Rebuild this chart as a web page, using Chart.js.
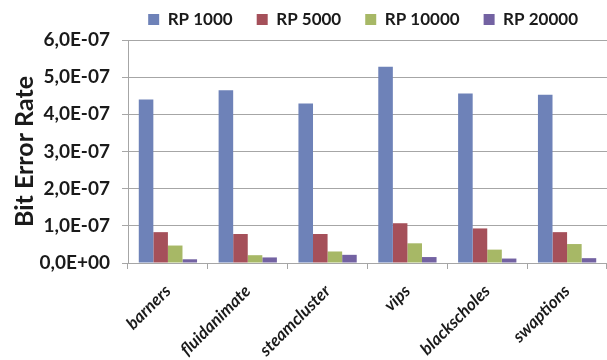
<!DOCTYPE html>
<html>
<head>
<meta charset="utf-8">
<script src="https://cdn.jsdelivr.net/npm/chart.js@4/dist/chart.umd.min.js"></script>
<style>
  html, body { margin: 0; padding: 0; background: #fff; }
  canvas { display: block; }
</style>
</head>
<body>
<canvas id="berChart" width="607" height="360"></canvas>
<script>
/* ── Data ───────────────────────────────────────────────────────────────── */

const BENCHMARKS = ['barners', 'fluidanimate', 'steamcluster', 'vips', 'blackscholes', 'swaptions'];

const SERIES_LABELS = ['RP 1000', 'RP 5000', 'RP 10000', 'RP 20000'];

const RP_1000  = [4.40e-7, 4.65e-7, 4.29e-7, 5.28e-7, 4.56e-7, 4.53e-7];
const RP_5000  = [0.83e-7, 0.78e-7, 0.78e-7, 1.07e-7, 0.93e-7, 0.83e-7];
const RP_10000 = [0.47e-7, 0.21e-7, 0.31e-7, 0.53e-7, 0.36e-7, 0.51e-7];
const RP_20000 = [0.10e-7, 0.15e-7, 0.22e-7, 0.16e-7, 0.12e-7, 0.13e-7];

const Y_TICKS       = [0, 1e-7, 2e-7, 3e-7, 4e-7, 5e-7, 6e-7];
const Y_TICK_LABELS = ['0,0E+00', '1,0E-07', '2,0E-07', '3,0E-07', '4,0E-07', '5,0E-07', '6,0E-07'];

/* ── Style ──────────────────────────────────────────────────────────────── */

const COLORS = {
    series: ['#6e82b8', '#a5505a', '#a7b866', '#7362a2'],
    grid:   '#a6a6a6',
    text:   '#1a1a1a',
};

const FONT = 'Lato, "Open Sans", sans-serif';

const seriesData = [RP_1000, RP_5000, RP_10000, RP_20000];

// Nudge the end-aligned legend a little left of the canvas edge and up.
const legendNudge = {
    id: 'legendNudge',
    afterLayout(chart) {
        chart.legend.right  -= 5;
        chart.legend.top    -= 2;
        chart.legend.bottom -= 2;
    },
};

/* ── Chart ──────────────────────────────────────────────────────────────── */

new Chart(document.getElementById('berChart').getContext('2d'), {
    type: 'bar',
    data: {
        labels: BENCHMARKS,
        datasets: SERIES_LABELS.map((label, i) => ({
            label,
            data: seriesData[i],
            backgroundColor: COLORS.series[i],
            borderWidth: 0,
            categoryPercentage: 0.73,
            barPercentage: 1.0,
        })),
    },
    options: {
        responsive: false,
        animation: false,
        layout: { padding: { left: 10, right: 0, top: -11, bottom: 0 } },
        scales: {
            x: {
                grid: {
                    offset: true,
                    drawOnChartArea: false,
                    drawTicks: true,
                    tickLength: 6,
                    color: COLORS.grid,
                },
                border: { color: COLORS.grid },
                ticks: {
                    color: COLORS.text,
                    minRotation: 45,
                    maxRotation: 45,
                    padding: 12,
                    font: { family: FONT, size: 17, weight: 'bold', style: 'italic' },
                },
                afterFit: scale => { scale.height = 97; },
            },
            y: {
                min: 0,
                max: 6e-7,
                afterBuildTicks: scale => { scale.ticks = Y_TICKS.map(value => ({ value })); },
                grid: { color: COLORS.grid, tickLength: 6 },
                border: { color: COLORS.grid },
                ticks: {
                    color: COLORS.text,
                    padding: 12,
                    font: { family: FONT, size: 19, weight: 'bold' },
                    callback: (value, i) => Y_TICK_LABELS[i],
                },
                title: {
                    display: true,
                    text: 'Bit Error Rate',
                    color: COLORS.text,
                    padding: 0,
                    font: { family: FONT, size: 25, weight: 'bold' },
                },
                afterFit: scale => { scale.width = 118; },
            },
        },
        plugins: {
            legend: {
                position: 'top',
                align: 'end',
                labels: {
                    color: COLORS.text,
                    boxWidth: 11,
                    boxHeight: 11,
                    padding: 24,
                    font: { family: FONT, size: 17, weight: 'bold' },
                },
            },
            tooltip: { enabled: false },
        },
    },
    plugins: [legendNudge],
});
</script>
</body>
</html>
